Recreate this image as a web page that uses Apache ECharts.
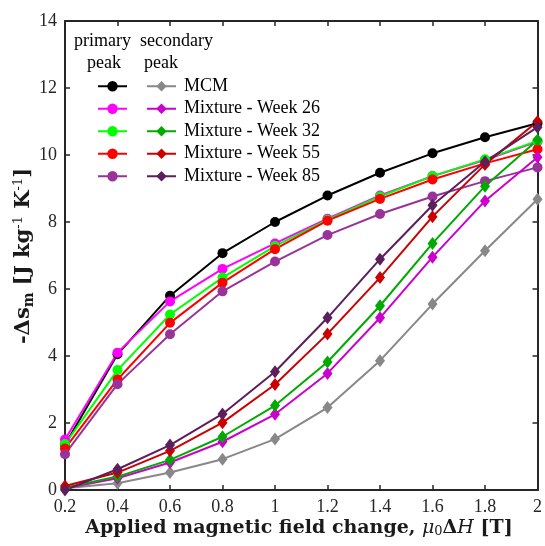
<!DOCTYPE html>
<html>
<head>
<meta charset="utf-8">
<script src="https://cdn.jsdelivr.net/npm/echarts@6/dist/echarts.min.js"></script>
<style>
  html, body { margin: 0; padding: 0; background: #ffffff; }
  #chart { width: 545px; height: 546px; }
</style>
</head>
<body>
<div id="chart"></div>
<script>
// Applied field change (T)
const fieldChange = [0.2, 0.4, 0.6, 0.8, 1.0, 1.2, 1.4, 1.6, 1.8, 2.0];

// Sample names shown in the legend
const sampleNames = ['MCM', 'Mixture - Week 26', 'Mixture - Week 32', 'Mixture - Week 55', 'Mixture - Week 85'];

// -Δs_m (J kg^-1 K^-1), primary peak
const primaryMCM    = [1.35, 4.05, 5.80, 7.07, 8.00, 8.79, 9.47, 10.05, 10.53, 10.95];
const primaryWeek26 = [1.51, 4.10, 5.63, 6.60, 7.36, 8.10, 8.79, 9.37, 9.85, 10.40];
const primaryWeek32 = [1.37, 3.58, 5.24, 6.34, 7.28, 8.07, 8.76, 9.37, 9.87, 10.42];
const primaryWeek55 = [1.24, 3.30, 4.99, 6.19, 7.19, 8.04, 8.69, 9.27, 9.75, 10.17];
const primaryWeek85 = [1.07, 3.16, 4.65, 5.93, 6.82, 7.61, 8.24, 8.76, 9.22, 9.63];

// -Δs_m (J kg^-1 K^-1), secondary peak
const secondaryMCM    = [0.05, 0.20, 0.52, 0.92, 1.52, 2.46, 3.86, 5.55, 7.14, 8.68];
const secondaryWeek26 = [0.05, 0.35, 0.82, 1.44, 2.26, 3.48, 5.14, 6.95, 8.63, 9.93];
const secondaryWeek32 = [0.07, 0.40, 0.90, 1.59, 2.52, 3.82, 5.50, 7.36, 9.07, 10.45];
const secondaryWeek55 = [0.12, 0.52, 1.17, 2.01, 3.15, 4.66, 6.34, 8.16, 9.72, 11.00];
const secondaryWeek85 = [0.00, 0.62, 1.34, 2.27, 3.53, 5.14, 6.89, 8.50, 9.80, 10.83];

const primaryColors   = ['#000000', '#ff00ff', '#00ff00', '#ff0000', '#993399'];
const secondaryColors = ['#888888', '#cc00cc', '#00aa00', '#cc0000', '#5c1f5c'];

const primaryData   = [primaryMCM, primaryWeek26, primaryWeek32, primaryWeek55, primaryWeek85];
const secondaryData = [secondaryMCM, secondaryWeek26, secondaryWeek32, secondaryWeek55, secondaryWeek85];

const FONT = 'Liberation Serif';
const TITLE_FONT = 'DejaVu Serif';
const AXIS_COLOR = '#262626';
const TITLE_COLOR = '#1a1a1a';

const toPairs = ys => fieldChange.map((x, i) => [x, ys[i]]);
const primaryName = n => n + ' (primary)';

const series = [];
sampleNames.forEach((n, k) => {
  series.push({
    name: primaryName(n), type: 'line', data: toPairs(primaryData[k]),
    symbol: 'circle', symbolSize: 10,
    lineStyle: { color: primaryColors[k], width: 2 },
    itemStyle: { color: primaryColors[k] },
    emphasis: { disabled: true }, animation: false
  });
});
sampleNames.forEach((n, k) => {
  series.push({
    name: n, type: 'line', data: toPairs(secondaryData[k]),
    symbol: 'diamond', symbolSize: [10, 13],
    lineStyle: { color: secondaryColors[k], width: 2 },
    itemStyle: { color: secondaryColors[k] },
    emphasis: { disabled: true }, animation: false
  });
});

const tickStyle = { inside: true, length: 5, lineStyle: { color: AXIS_COLOR, width: 1.5 } };
const lineStyle = { show: true, onZero: false, lineStyle: { color: AXIS_COLOR, width: 2 } };

const legendCommon = {
  orient: 'vertical', top: 70, itemWidth: 29, itemHeight: 13, itemGap: 0,
  selectedMode: false,
  textStyle: { fontFamily: FONT, fontSize: 18, color: '#000000', lineHeight: 22.5 }
};

const headerFont = '18px "Liberation Serif"';

const chart = echarts.init(document.getElementById('chart'), null, { renderer: 'canvas' });
chart.setOption({
  backgroundColor: '#ffffff',
  animation: false,
  grid: { left: 65, right: 5, top: 21, bottom: 56, containLabel: false },
  xAxis: [
    {
      type: 'value', min: 0.2, max: 2, interval: 0.2, position: 'bottom',
      axisLine: lineStyle, axisTick: tickStyle, splitLine: { show: false },
      axisLabel: {
        margin: 8, color: AXIS_COLOR, fontFamily: FONT, fontSize: 18,
        formatter: v => String(+v.toFixed(1))
      }
    },
    {
      type: 'value', min: 0.2, max: 2, interval: 0.2, position: 'top',
      axisLine: lineStyle, axisTick: tickStyle, splitLine: { show: false },
      axisLabel: { show: false }
    }
  ],
  yAxis: [
    {
      type: 'value', min: 0, max: 14, interval: 2, position: 'left',
      axisLine: lineStyle, axisTick: tickStyle, splitLine: { show: false },
      axisLabel: { margin: 8, color: AXIS_COLOR, fontFamily: FONT, fontSize: 18 }
    },
    {
      type: 'value', min: 0, max: 14, interval: 2, position: 'right',
      axisLine: lineStyle, axisTick: tickStyle, splitLine: { show: false },
      axisLabel: { show: false }
    }
  ],
  legend: [
    Object.assign({}, legendCommon, {
      left: 92, data: sampleNames.map(primaryName), formatter: () => ' '
    }),
    Object.assign({}, legendCommon, {
      left: 141, data: sampleNames.slice(),
      textStyle: Object.assign({}, legendCommon.textStyle, { padding: [0, 0, 0, 3] })
    })
  ],
  graphic: [
    { type: 'text', left: 74, top: 32, style: { text: 'primary', font: headerFont, fill: '#000' } },
    { type: 'text', left: 140, top: 32, style: { text: 'secondary', font: headerFont, fill: '#000' } },
    { type: 'text', left: 87, top: 54, style: { text: 'peak', font: headerFont, fill: '#000' } },
    { type: 'text', left: 144, top: 54, style: { text: 'peak', font: headerFont, fill: '#000' } },
    {
      type: 'text', x: 299, y: 528,
      style: {
        text: '{b|Applied magnetic field change, }{i|μ}{s|0}{b|Δ}{i|H}{b| [T]}',
        align: 'center', verticalAlign: 'middle', fill: TITLE_COLOR,
        rich: {
          b: { fontFamily: TITLE_FONT, fontSize: 19, fontWeight: 'bold', fill: TITLE_COLOR },
          i: { fontFamily: TITLE_FONT, fontSize: 19, fontStyle: 'italic', fill: TITLE_COLOR },
          s: { fontFamily: TITLE_FONT, fontSize: 13, fill: TITLE_COLOR, padding: [8, 0, 0, 0] }
        }
      }
    },
    {
      type: 'text', x: 24, y: 256, rotation: Math.PI / 2,
      style: {
        text: '{b|-Δs}{s|m}{b| [J kg}{p|-1}{b| K}{p|-1}{b|]}',
        align: 'center', verticalAlign: 'middle', fill: TITLE_COLOR,
        rich: {
          b: { fontFamily: TITLE_FONT, fontSize: 21, fontWeight: 'bold', fill: TITLE_COLOR },
          s: { fontFamily: TITLE_FONT, fontSize: 14, fontWeight: 'bold', fill: TITLE_COLOR, padding: [10, 0, 0, 0] },
          p: { fontFamily: TITLE_FONT, fontSize: 13, fill: TITLE_COLOR, padding: [0, 0, 11, 0] }
        }
      }
    }
  ],
  series: series
});
</script>
</body>
</html>
